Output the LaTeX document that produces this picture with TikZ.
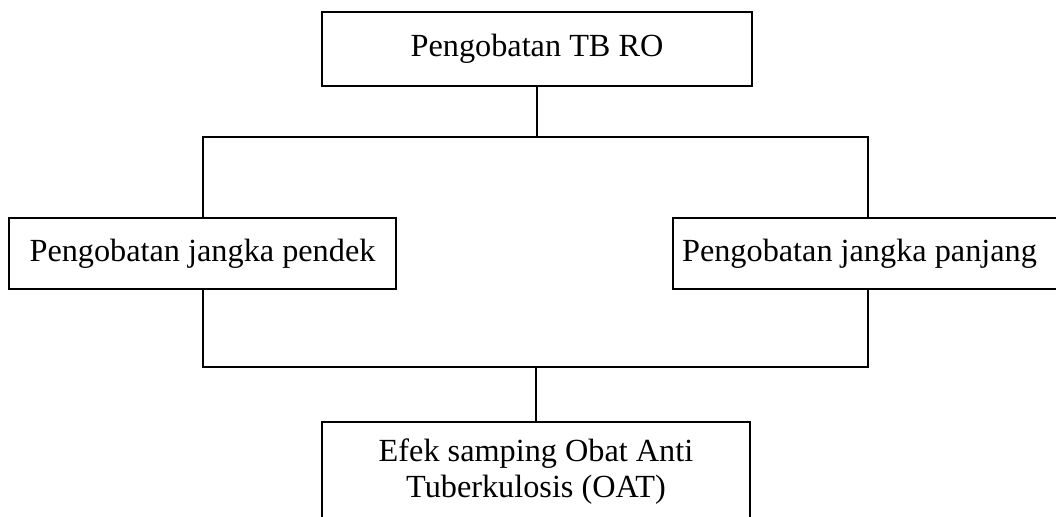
\documentclass[tikz,border=0pt]{standalone}
\usepackage{fontspec}
\setmainfont{Liberation Serif}
\usetikzlibrary{calc}

\begin{document}
\begin{tikzpicture}[x=0.75pt,y=-0.75pt,
    kotak/.style={draw,line width=1.5pt,align=center,inner sep=0pt,
        font=\fontsize{24.2}{27}\selectfont},
    garis/.style={line width=1.5pt}]
            \useasboundingbox (0,0) rectangle (1056,517);
            \clip (0,0) rectangle (1056,517);

            \node[kotak,minimum width=322.5pt,minimum height=55.5pt] (utama) at (537,49) {Pengobatan TB RO};
            \node[kotak,minimum width=290.25pt,minimum height=53.25pt] (pendek) at (202.5,253.5) {Pengobatan jangka pendek};
            \node[kotak,minimum width=291.75pt,minimum height=53.25pt] (panjang) at (867.5,253.5) {\hspace*{-12pt}Pengobatan jangka panjang};
            \node[kotak,minimum width=321pt,minimum height=75pt] (efek) at (536,472) {Efek samping Obat Anti\\Tuberkulosis (OAT)};

            %cabang atas dan bawah
            \coordinate (atas) at (utama.south |- 0,137);
            \coordinate (bawah) at (efek.north |- 0,367);

            \draw[garis] (utama.south) -- (atas);
            \draw[garis] (pendek.north) |- (atas) -| (panjang.north);
            \draw[garis] (pendek.south) |- (bawah) -| (panjang.south);
            \draw[garis] (bawah) -- (efek.north);
        \end{tikzpicture}
\end{document}
